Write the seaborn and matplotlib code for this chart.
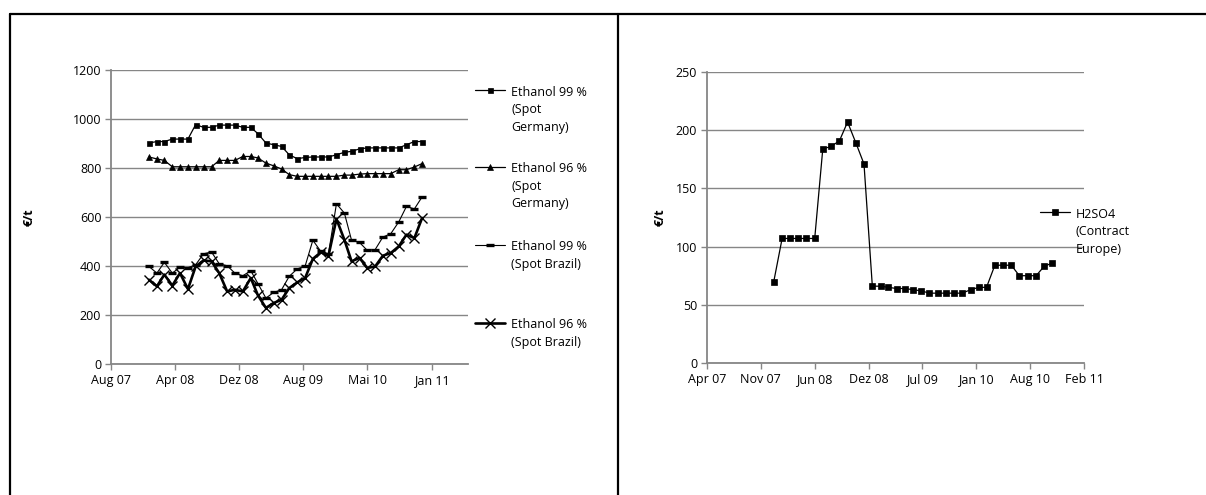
import pandas as pd
import matplotlib
matplotlib.use("Agg")
import matplotlib.pyplot as plt
from matplotlib.lines import Line2D
import seaborn as sns

# monthly prices, Jan 2008 - Dec 2010 (EUR/t)
eth99_germany = [902, 908, 908, 918, 918, 918, 977, 966, 966, 975, 975, 975,
                 966, 966, 940, 902, 895, 888, 854, 838, 843, 845, 845, 845,
                 854, 864, 868, 878, 882, 882, 882, 882, 882, 895, 908, 908]
eth96_germany = [845, 837, 831, 805, 805, 805, 805, 805, 805, 831, 831, 831,
                 847, 847, 841, 820, 809, 796, 773, 766, 766, 766, 766, 766,
                 766, 771, 771, 775, 777, 777, 777, 777, 793, 793, 804, 818]
eth99_brazil = [398, 371, 415, 371, 395, 393, 405, 450, 457, 409, 401, 371,
                360, 381, 328, 269, 292, 303, 358, 388, 400, 505, 460, 450,
                654, 616, 505, 496, 464, 467, 518, 532, 580, 643, 633, 682]
eth96_brazil = [344, 317, 365, 320, 371, 306, 398, 423, 419, 371, 296, 303,
                296, 351, 280, 229, 249, 262, 310, 333, 351, 429, 456, 442,
                592, 507, 419, 433, 392, 398, 442, 453, 480, 528, 514, 596]

# H2SO4 contract price, Jan 2008 - Nov 2010
h2so4_europe = [70, 107, 107, 107, 107, 107, 184, 186, 191, 207, 189, 171,
                66, 66, 65, 64, 64, 63, 62, 60, 60, 60, 60, 60,
                63, 65, 65, 84, 84, 84, 75, 75, 75, 83, 86]

left_ticklabels = ["Aug 07", "Apr 08", "Dez 08", "Aug 09", "Mai 10", "Jan 11"]
right_ticklabels = ["Apr 07", "Nov 07", "Jun 08", "Dez 08", "Jul 09", "Jan 10", "Aug 10", "Feb 11"]

months_eth = pd.date_range("2008-01-01", periods=len(eth99_germany), freq="MS")
months_h2 = pd.date_range("2008-01-01", periods=len(h2so4_europe), freq="MS")

sns.set_theme(style="white")
plt.rcParams["font.family"] = ["Open Sans", "DejaVu Sans"]

GRAY = "#868686"
FS = 9
W, H = 1206, 495

fig = plt.figure(figsize=(W / 100, H / 100), dpi=100)


def px_axes(x0, x1, y_top, y_bot):
    return fig.add_axes([x0 / W, 1 - y_bot / H, (x1 - x0) / W, (y_bot - y_top) / H])


def style_axes(ax, start, step_days, labels, span_days, ymax, ystep):
    ticks = [start + pd.Timedelta(days=step_days * k) for k in range(len(labels))]
    ax.set_xlim(start, start + pd.Timedelta(days=span_days))
    ax.set_xticks(ticks)
    ax.set_xticklabels(labels)
    ax.set_ylim(0, ymax)
    ax.set_yticks(range(0, ymax + 1, ystep))
    ax.yaxis.grid(True, color=GRAY, lw=1.0)
    ax.xaxis.grid(False)
    for s in ["top", "right"]:
        ax.spines[s].set_visible(False)
    for s in ["left", "bottom"]:
        ax.spines[s].set_color(GRAY)
        ax.spines[s].set_linewidth(1.3)
    ax.tick_params(axis="both", direction="out", length=4, width=1, color=GRAY,
                   labelsize=FS, labelcolor="black", pad=3)
    ax.tick_params(axis="x", bottom=True)
    ax.tick_params(axis="y", left=True)
    ax.set_xlabel("")
    ax.set_ylabel("€/t", fontsize=FS, fontweight="bold", color="black")


def legend_entry(x, y, lines, lw, **mk):
    # short key line with one marker, then text lines (pixel coords from top-left)
    fig.add_artist(Line2D([x / W, (x + 30) / W], [1 - y / H, 1 - y / H],
                          transform=fig.transFigure, color="black", lw=lw))
    fig.add_artist(Line2D([(x + 15) / W], [1 - y / H], transform=fig.transFigure,
                          color="black", linestyle="none", mfc="black", mec="black", **mk))
    for i, t in enumerate(lines):
        fig.text((x + 36) / W, 1 - (y + 2 + 17.5 * i) / H, t, fontsize=FS,
                 va="center", ha="left", color="black")


def draw(ax, x, y, lw, **mk):
    sns.lineplot(x=x, y=y, ax=ax, color="black", lw=lw, mfc="black", mec="black", **mk)


# ---- left panel: ethanol ----
ax1 = px_axes(111, 468, 70, 364)
s_g99 = dict(lw=0.9, marker="s", markersize=3.6, mew=0.5)
s_g96 = dict(lw=0.9, marker="^", markersize=5, mew=0.5)
s_b99 = dict(lw=0.8, marker="_", markersize=5.5, mew=2.4)
s_b96 = dict(lw=1.9, marker="x", markersize=7, mew=1.0)
draw(ax1, months_eth, eth99_germany, **s_g99)
draw(ax1, months_eth, eth96_germany, **s_g96)
draw(ax1, months_eth, eth99_brazil, **s_b99)
draw(ax1, months_eth, eth96_brazil, **s_b96)
style_axes(ax1, pd.Timestamp("2007-08-06"), 250, left_ticklabels, 1392, 1200, 200)
ax1.yaxis.set_label_coords(-0.21, 0.5)

legend_entry(475, 90, ["Ethanol 99 %", "(Spot", "Germany)"], **s_g99)
legend_entry(475, 167, ["Ethanol 96 %", "(Spot", "Germany)"], **s_g96)
legend_entry(475, 245, ["Ethanol 99 %", "(Spot Brazil)"], **s_b99)
legend_entry(475, 323, ["Ethanol 96 %", "(Spot Brazil)"], **s_b96)

# ---- right panel: sulphuric acid ----
ax2 = px_axes(707, 1084, 72, 363)
s_h2 = dict(lw=0.9, marker="s", markersize=4.3, mew=0.5)
draw(ax2, months_h2, h2so4_europe, **s_h2)
style_axes(ax2, pd.Timestamp("2007-04-28"), 200, right_ticklabels, 1400, 250, 50)
ax2.yaxis.set_label_coords(-0.108, 0.5)

legend_entry(1040, 212, ["H2SO4", "(Contract", "Europe)"], **s_h2)

# ---- table frame ----
frame = dict(transform=fig.transFigure, color="black", lw=1.6)
fig.add_artist(Line2D([10 / W, 1], [1 - 14 / H, 1 - 14 / H], **frame))
fig.add_artist(Line2D([10 / W, 10 / W], [0, 1 - 14 / H], **frame))
fig.add_artist(Line2D([618 / W, 618 / W], [0, 1 - 14 / H], **frame))

fig.savefig("out.png", dpi=100)
